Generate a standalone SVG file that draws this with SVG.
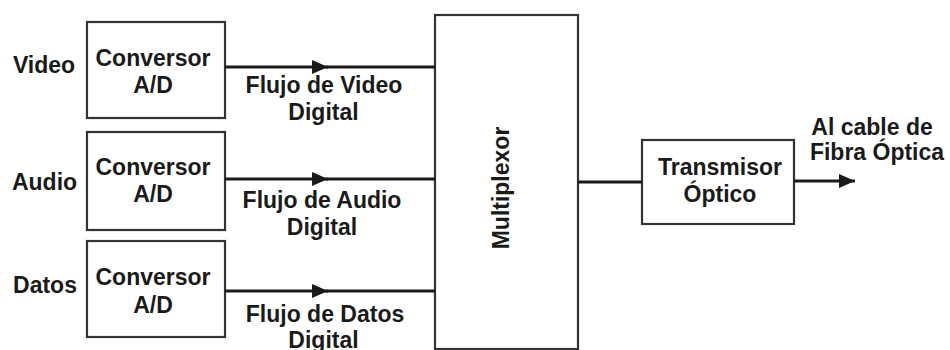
<svg xmlns="http://www.w3.org/2000/svg" width="950" height="350" viewBox="0 0 950 350">
<defs>
<style>
text{font-family:"Liberation Sans",Arial,sans-serif;font-weight:bold;font-size:23px;fill:#1a1a1a;text-anchor:middle}
.box{fill:#fff;stroke:#333;stroke-width:2.2}
.wire{fill:none;stroke:#1a1a1a;stroke-width:3}
</style>
<marker id="ah" viewBox="0 0 16 14" refX="16" refY="7" markerWidth="16" markerHeight="14" markerUnits="userSpaceOnUse" orient="auto">
<path d="M0,0 L16,7 L0,14 z" fill="#1a1a1a"/>
</marker>
</defs>
<rect width="950" height="350" fill="#fff"/>
<g id="input-labels">
<text x="44" y="73">Video</text>
<text x="44.5" y="190">Audio</text>
<text x="45" y="293">Datos</text>
</g>
<g id="conv-video">
<rect class="box" x="87" y="22" width="138" height="96"/>
<text x="153" y="66">Conversor</text>
<text x="153" y="93">A/D</text>
</g>
<g id="conv-audio">
<rect class="box" x="87" y="132" width="138" height="98"/>
<text x="153" y="175">Conversor</text>
<text x="153" y="202">A/D</text>
</g>
<g id="conv-datos">
<rect class="box" x="87" y="241" width="138" height="96"/>
<text x="153" y="285">Conversor</text>
<text x="153" y="313">A/D</text>
</g>
<g id="multiplexor">
<rect class="box" x="435" y="15" width="143" height="334"/>
<text transform="translate(509,188) rotate(-90)">Multiplexor</text>
</g>
<g id="transmisor">
<rect class="box" x="642" y="140" width="152" height="84"/>
<text x="720" y="175">Transmisor</text>
<text x="720" y="202">Óptico</text>
</g>
<g id="connectors">
<path class="wire" d="M225,67 H328" marker-end="url(#ah)"/>
<path class="wire" d="M326,67 H435"/>
<path class="wire" d="M225,179 H328" marker-end="url(#ah)"/>
<path class="wire" d="M326,179 H435"/>
<path class="wire" d="M225,291 H328" marker-end="url(#ah)"/>
<path class="wire" d="M326,291 H435"/>
<path class="wire" d="M578,182 H642"/>
<path class="wire" d="M794,181 H855" marker-end="url(#ah)"/>
</g>
<g id="connector-labels">
<text x="324" y="93">Flujo de Video</text>
<text x="323.5" y="120">Digital</text>
<text x="322" y="208">Flujo de Audio</text>
<text x="322" y="235">Digital</text>
<text x="325" y="322">Flujo de Datos</text>
<text x="323.5" y="348">Digital</text>
<text x="872" y="135">Al cable de</text>
<text x="877" y="160">Fibra Óptica</text>
</g>
</svg>
